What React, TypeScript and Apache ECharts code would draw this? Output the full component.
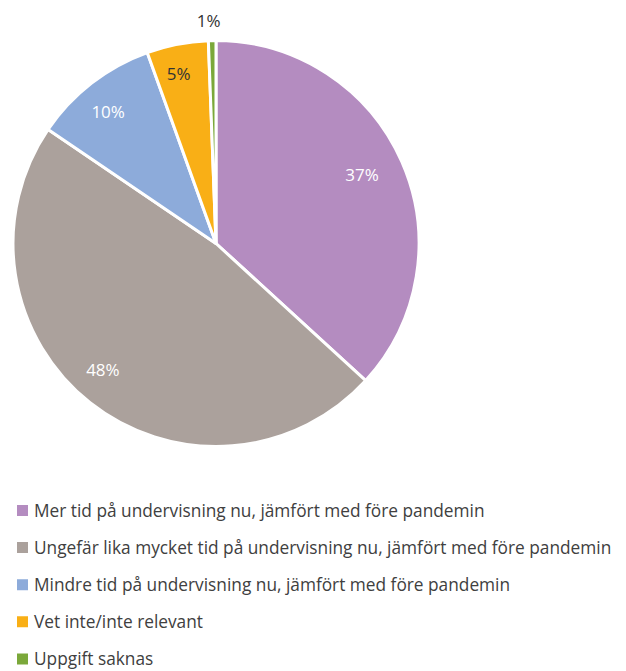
import React, { useEffect, useRef } from "react";
import * as echarts from "echarts";

const categories = [
  "Mer tid på undervisning nu, jämfört med före pandemin",
  "Ungefär lika mycket tid på undervisning nu, jämfört med före pandemin",
  "Mindre tid på undervisning nu, jämfört med före pandemin",
  "Vet inte/inte relevant",
  "Uppgift saknas",
];
const values = [36.8, 47.7, 10.0, 4.9, 0.6];
const labelTexts = ["37%", "48%", "10%", "5%", "1%"];
const colors = ["#B48CC0", "#ABA19C", "#8DABDA", "#F9AF16", "#7BA83A"];
const labelColors = ["#ffffff", "#ffffff", "#ffffff", "#333333", "#333333"];

export default function App() {
  const ref = useRef<HTMLDivElement>(null);
  useEffect(() => {
    const chart = echarts.init(ref.current!, null, { renderer: "svg" });
    const font = "'Open Sans', Lato, sans-serif";
    const R = 203;
    const center = [216, 243.5];
    const nudges = [
      [-9, -1],
      [-8, -7],
      [-4, 2],
      [-5, -4],
      [-3, 2],
    ];
    const data = categories.map((name, i) => ({
      name,
      value: values[i],
      itemStyle: { color: colors[i] },
    }));
    const innerLabels = categories.map((name, i) => ({
      name,
      value: values[i],
      label: { show: i < 4, color: labelColors[i] },
    }));
    const outerLabels = categories.map((name, i) => ({
      name,
      value: values[i],
      label: { show: i === 4, color: labelColors[i] },
    }));
    const labelSeries = (radius: number[], d: any[]) => ({
      type: "pie",
      center,
      radius,
      startAngle: 90,
      clockwise: true,
      data: d,
      itemStyle: { color: "rgba(0,0,0,0)" },
      silent: true,
      legendHoverLink: false,
      avoidLabelOverlap: false,
      labelLine: { show: false },
      labelLayout: (p: any) => ({ dx: nudges[p.dataIndex][0], dy: nudges[p.dataIndex][1] }),
      label: {
        position: "inside",
        fontFamily: font,
        fontSize: 17,
        formatter: (p: any) => labelTexts[p.dataIndex],
      },
    });
    chart.setOption({
      animation: false,
      legend: {
        orient: "vertical",
        left: 10,
        top: 497,
        height: 200,
        itemWidth: 13,
        itemHeight: 13,
        itemGap: 20.1,
        icon: "rect",
        data: categories,
        textStyle: { fontFamily: font, fontSize: 17.3, color: "#404040", lineHeight: 16 },
      },
      series: [
        {
          type: "pie",
          center,
          radius: [0, R],
          startAngle: 90,
          clockwise: true,
          data,
          label: { show: false },
          labelLine: { show: false },
          itemStyle: { borderColor: "#ffffff", borderWidth: 3 },
          silent: true,
        },
        labelSeries([R * 0.64, R], innerLabels),
        labelSeries([R + 4, R + 34], outerLabels),
      ],
    });
    return () => chart.dispose();
  }, []);
  return (
    <div
      ref={ref}
      style={{ position: "absolute", left: 0, top: 0, width: 626, height: 671 }}
    />
  );
}
